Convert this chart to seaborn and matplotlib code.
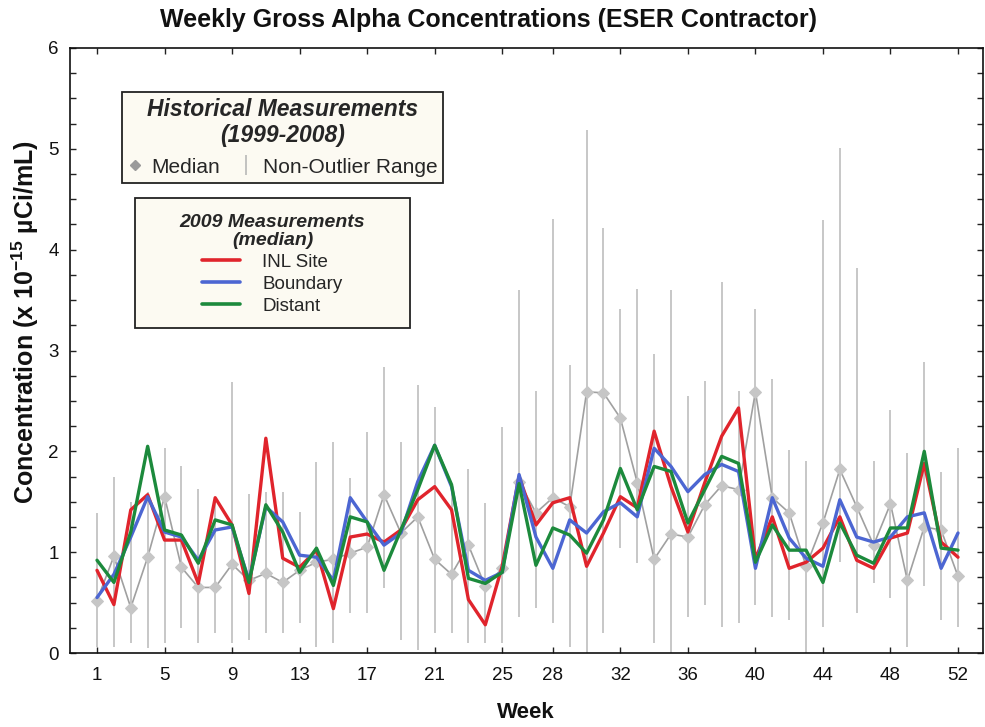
import numpy as np
import pandas as pd
import matplotlib
matplotlib.use("Agg")
import matplotlib.pyplot as plt
import seaborn as sns
from matplotlib.lines import Line2D
from matplotlib.patches import Rectangle
from matplotlib.ticker import MultipleLocator, FixedLocator
from matplotlib.font_manager import FontProperties

# ---------------- data ----------------
weeks = list(range(1, 53))

hist_median = [0.52, 0.96, 0.45, 0.95, 1.55, 0.85, 0.65, 0.65, 0.88, 0.72,
               0.79, 0.70, 0.82, 0.90, 0.93, 0.99, 1.05, 1.57, 1.19, 1.35,
               0.93, 0.78, 1.07, 0.66, 0.84, 1.70, 1.39, 1.54, 1.45, 2.59,
               2.58, 2.33, 1.69, 0.93, 1.18, 1.15, 1.47, 1.66, 1.62, 2.59,
               1.54, 1.39, 0.86, 1.29, 1.82, 1.45, 1.07, 1.48, 0.72, 1.25,
               1.22, 0.76]

hist_low = [0.06, 0.06, 0.10, 0.05, 0.10, 0.25, 0.10, 0.20, 0.10, 0.13,
            0.20, 0.20, 0.30, 0.06, 0.10, 0.40, 0.40, 0.64, 0.13, 0.03,
            0.20, 0.20, 0.10, 0.10, 0.10, 0.36, 0.45, 0.30, 0.06, 0.00,
            0.20, 1.04, 0.89, 0.10, 0.00, 0.36, 0.48, 0.26, 0.30, 0.48,
            0.36, 0.33, 0.00, 0.26, 0.90, 0.40, 0.69, 0.55, 0.06, 0.66,
            0.33, 0.26]

hist_high = [1.39, 1.75, 1.50, 1.60, 2.03, 1.85, 1.63, 1.50, 2.69, 1.58,
             1.60, 1.60, 1.40, 1.89, 2.09, 1.74, 2.19, 2.84, 2.09, 2.66,
             2.44, 1.65, 1.82, 1.49, 2.24, 3.60, 2.60, 4.30, 2.86, 5.19,
             4.21, 3.41, 3.61, 2.97, 3.60, 2.55, 2.70, 3.68, 2.60, 3.41,
             2.72, 2.01, 1.90, 4.29, 5.01, 3.82, 1.90, 2.41, 1.98, 2.89,
             1.80, 2.03]

inl_site = [0.82, 0.48, 1.42, 1.57, 1.12, 1.12, 0.69, 1.54, 1.27, 0.59,
            2.13, 0.94, 0.85, 1.02, 0.44, 1.15, 1.18, 1.10, 1.22, 1.52,
            1.65, 1.42, 0.53, 0.28, 0.86, 1.75, 1.27, 1.49, 1.54, 0.86,
            1.19, 1.55, 1.44, 2.20, 1.65, 1.20, 1.69, 2.15, 2.43, 0.93,
            1.35, 0.84, 0.90, 1.04, 1.35, 0.92, 0.84, 1.14, 1.19, 1.88,
            1.10, 0.95]

boundary = [0.55, 0.78, 1.15, 1.55, 1.20, 1.15, 0.92, 1.22, 1.25, 0.72,
            1.45, 1.30, 0.97, 0.95, 0.72, 1.54, 1.30, 1.07, 1.19, 1.70,
            2.06, 1.65, 0.82, 0.72, 0.80, 1.77, 1.15, 0.84, 1.32, 1.19,
            1.40, 1.49, 1.35, 2.03, 1.85, 1.60, 1.77, 1.87, 1.80, 0.84,
            1.54, 1.14, 0.94, 0.86, 1.52, 1.15, 1.10, 1.15, 1.35, 1.39,
            0.84, 1.19]

distant = [0.92, 0.70, 1.20, 2.05, 1.22, 1.17, 0.89, 1.32, 1.27, 0.70,
           1.47, 1.20, 0.80, 1.04, 0.67, 1.35, 1.30, 0.82, 1.22, 1.62,
           2.06, 1.67, 0.74, 0.69, 0.80, 1.68, 0.87, 1.24, 1.17, 0.99,
           1.32, 1.83, 1.42, 1.85, 1.80, 1.29, 1.62, 1.95, 1.88, 0.90,
           1.27, 1.02, 1.02, 0.70, 1.29, 0.97, 0.89, 1.24, 1.24, 2.00,
           1.04, 1.02]

series_names = ["INL Site", "Boundary", "Distant"]
x_tick_weeks = [1, 5, 9, 13, 17, 21, 25, 28, 32, 36, 40, 44, 48, 52]
y_ticks = [0, 1, 2, 3, 4, 5, 6]

# ---------------- style ----------------
sns.set_theme(style="white")
plt.rcParams["font.family"] = ["Liberation Sans", "DejaVu Sans"]
plt.rcParams["mathtext.fontset"] = "custom"
plt.rcParams["mathtext.rm"] = "Liberation Sans"
plt.rcParams["mathtext.bf"] = "Liberation Sans:bold"
plt.rcParams["mathtext.it"] = "Liberation Sans:italic"

colors = {"INL Site": "#e0242c", "Boundary": "#4c66d2", "Distant": "#1c8a3c"}
gray_line = "#a0a0a0"
gray_marker = "#c6c6c6"
gray_range = "#b8b8b8"
box_face = "#fcfaf2"
box_edge = "#222222"

fig = plt.figure(figsize=(9.85, 7.27), dpi=100)
ax = fig.add_axes([70 / 985, 1 - 653 / 727, 913 / 985, 605 / 727])

# non-outlier ranges
ax.vlines(weeks, hist_low, hist_high, color=gray_range, lw=1.1, zorder=1)

# historical median
sns.lineplot(x=weeks, y=hist_median, ax=ax, color=gray_line, lw=1.2,
             marker="D", markersize=6, markerfacecolor=gray_marker,
             markeredgecolor=gray_marker, zorder=2, legend=False)

# 2009 medians
df = pd.DataFrame({"Week": weeks, "INL Site": inl_site,
                   "Boundary": boundary, "Distant": distant})
long = df.melt(id_vars="Week", value_vars=series_names,
               var_name="Series", value_name="Concentration")
sns.lineplot(data=long, x="Week", y="Concentration", hue="Series",
             hue_order=series_names, palette=colors, lw=2.4, ax=ax,
             legend=False, zorder=3)

# axes
ax.set_xlim(-0.6, 53.48)
ax.set_ylim(0, 6)
ax.xaxis.set_major_locator(FixedLocator(x_tick_weeks))
ax.set_xticklabels([str(w) for w in x_tick_weeks])
ax.set_yticks(y_ticks)
ax.yaxis.set_minor_locator(MultipleLocator(0.25))
ax.set_xlabel("")
ax.set_ylabel("")
ax.tick_params(which="both", direction="in", top=True, right=True,
               bottom=True, left=True, length=4, width=1, color="#222222",
               labelsize=13.5, labelcolor="#111111")
ax.tick_params(axis="x", pad=10)
ax.tick_params(axis="y", pad=8)
for s in ax.spines.values():
    s.set_color("#111111")
    s.set_linewidth(1.2)
ax.grid(False)

# texts
fig.text(488 / 985, 1 - 20 / 727,
         "Weekly Gross Alpha Concentrations (ESER Contractor)",
         ha="center", va="center", fontsize=18, fontweight="bold", color="#111111")
fig.text(526 / 985, 1 - 712 / 727, "Week", ha="center", va="center",
         fontsize=16, fontweight="bold", color="#111111")
fig.text(25 / 985, 1 - 322 / 727,
         r"Concentration (x $\mathbf{10^{-15}}$ µCi/mL)",
         ha="center", va="center", rotation=90, fontsize=18,
         fontweight="bold", color="#111111")

# legend 1: historical
title_fp1 = FontProperties(family="Liberation Sans", weight="bold",
                           style="italic", size=16.5)
h1 = [Line2D([], [], ls="none", marker="D", markersize=5,
             markerfacecolor="#9a9a9a", markeredgecolor="#9a9a9a"),
      Line2D([], [], ls="none", marker="|", markersize=14,
             markeredgecolor=gray_range, markeredgewidth=1.2)]
leg1 = ax.legend(handles=h1, labels=["Median", "Non-Outlier Range"], ncol=2,
                 loc="upper left", bbox_to_anchor=(0.057, 0.927, 0.352, 0.0),
                 mode="expand", borderaxespad=0,
                 title="Historical Measurements\n(1999-2008)",
                 title_fontproperties=title_fp1, fontsize=15, frameon=True,
                 fancybox=False, framealpha=1, edgecolor=box_edge,
                 facecolor=box_face, handlelength=0.6, handletextpad=0.5,
                 columnspacing=1.0, borderpad=0.3, alignment="center")
leg1.get_frame().set_linewidth(1.3)
leg1.get_title().set_multialignment("center")
leg1.get_title().set_linespacing(1.15)
ax.add_artist(leg1)

# legend 2: 2009 medians (frame drawn as a box, legend centred in it)
bx0, bx1 = (135 - 70) / 913, (410 - 70) / 913
by0, by1 = (653 - 328) / 605, (653 - 198) / 605
ax.add_patch(Rectangle((bx0, by0), bx1 - bx0, by1 - by0, transform=ax.transAxes,
                       facecolor=box_face, edgecolor=box_edge, lw=1.3,
                       zorder=4.9, clip_on=False))
title_fp2 = FontProperties(family="Liberation Sans", weight="bold",
                           style="italic", size=14)
h2 = [Line2D([], [], color=colors[n], lw=2.6) for n in series_names]
leg2 = ax.legend(handles=h2, labels=series_names, loc="center",
                 bbox_to_anchor=((bx0 + bx1) / 2, (by0 + by1) / 2 - 0.002),
                 borderaxespad=0, title="2009 Measurements\n(median)",
                 title_fontproperties=title_fp2, fontsize=13.5, frameon=False,
                 handlelength=2.0, handletextpad=1.2,
                 labelspacing=0.25, borderpad=0.2, alignment="center")
leg2.get_title().set_multialignment("center")
leg2.get_title().set_linespacing(1.1)

fig.savefig("out.png", dpi=100, facecolor="white")
